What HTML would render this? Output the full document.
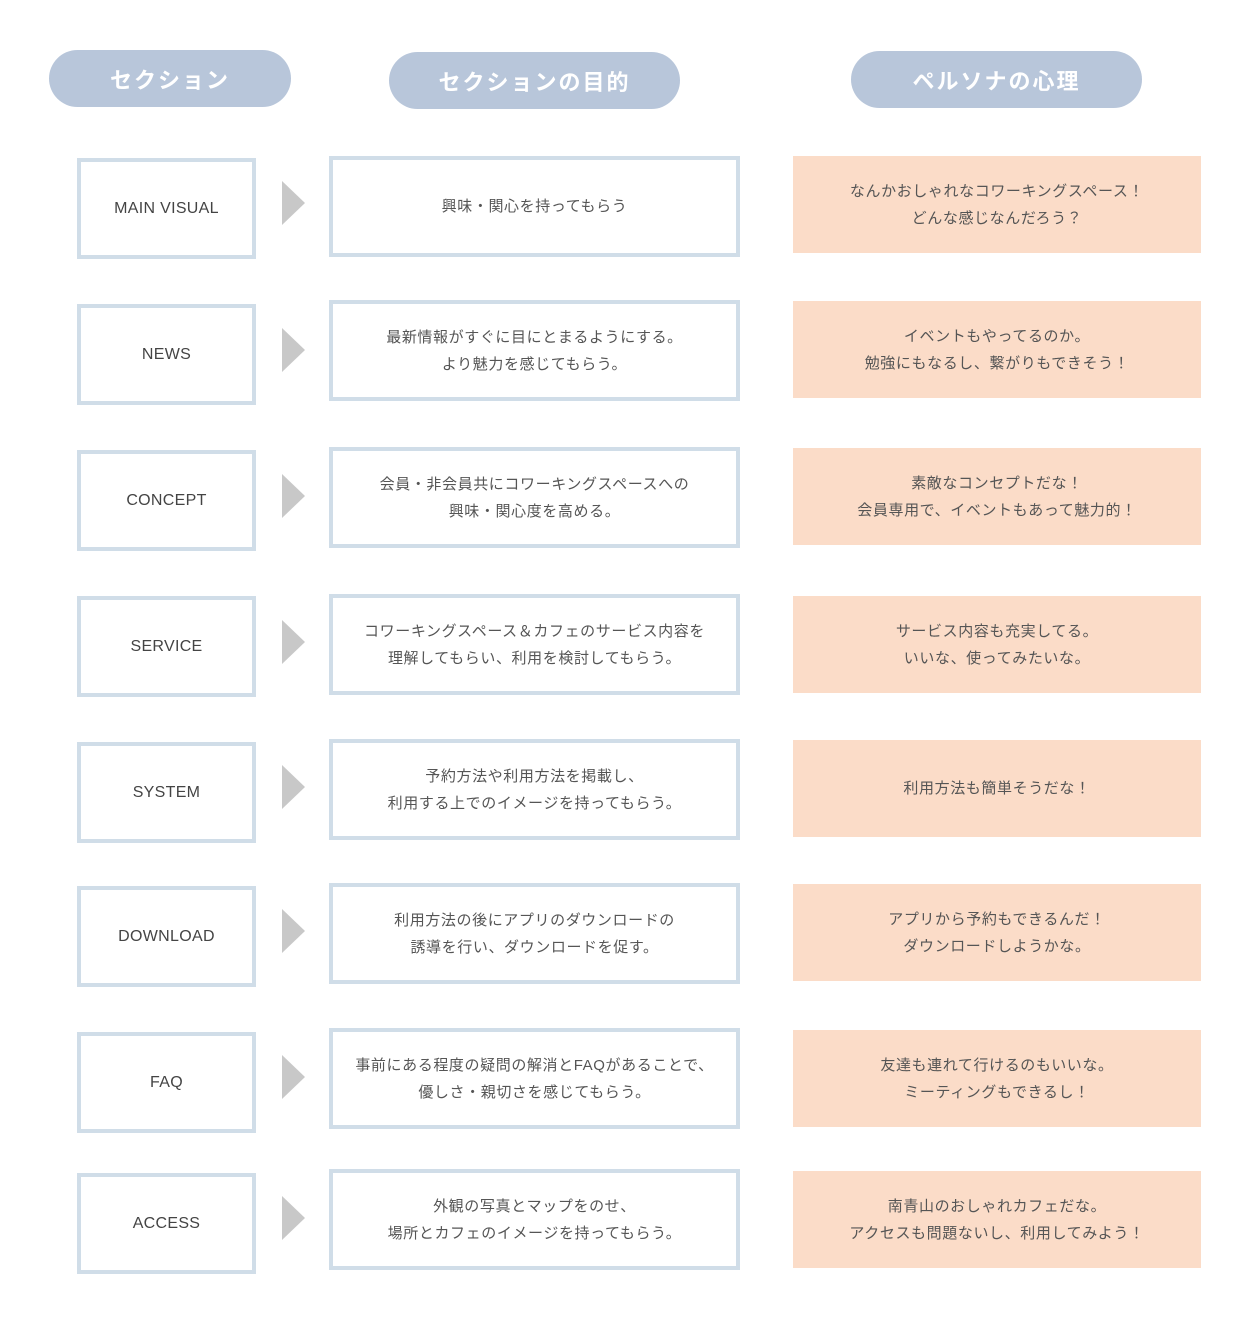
<!DOCTYPE html>
<html><head><meta charset="utf-8"><style>
body{margin:0;width:1250px;height:1323px;background:#fff;position:relative;font-family:"Liberation Sans","Noto Sans CJK JP",sans-serif;color:#555;}
.pill{position:absolute;height:57px;border-radius:29px;background:#b8c6da;color:#fff;font-weight:bold;font-size:22px;letter-spacing:2px;display:flex;align-items:center;justify-content:center;}
.b{position:absolute;box-sizing:border-box;display:flex;align-items:center;justify-content:center;text-align:center;}
.l{left:77px;width:179px;height:101px;border:4px solid #d0dde8;font-size:16px;letter-spacing:.3px;color:#444;}
.m{left:329px;width:411px;height:101px;border:4px solid #d0dde8;font-size:15px;letter-spacing:.6px;line-height:27px;}
.r{left:793px;width:408px;height:97px;background:#fbdcc8;font-size:15px;letter-spacing:.6px;line-height:27px;}
.a{position:absolute;left:282px;width:0;height:0;border-top:22px solid transparent;border-bottom:22px solid transparent;border-left:23px solid #c8c8c8;}
</style></head><body>
<div class="pill" style="left:49px;top:50px;width:242px">セクション</div>
<div class="pill" style="left:389px;top:52px;width:291px">セクションの目的</div>
<div class="pill" style="left:851px;top:51px;width:291px">ペルソナの心理</div>

<div class="b l" style="top:158px">MAIN VISUAL</div><div class="a" style="top:181px"></div>
<div class="b m" style="top:156px">興味・関心を持ってもらう</div>
<div class="b r" style="top:156px">なんかおしゃれなコワーキングスペース！<br>どんな感じなんだろう？</div>

<div class="b l" style="top:304px">NEWS</div><div class="a" style="top:328px"></div>
<div class="b m" style="top:300px">最新情報がすぐに目にとまるようにする。<br>より魅力を感じてもらう。</div>
<div class="b r" style="top:301px">イベントもやってるのか。<br>勉強にもなるし、繋がりもできそう！</div>

<div class="b l" style="top:450px">CONCEPT</div><div class="a" style="top:474px"></div>
<div class="b m" style="top:447px">会員・非会員共にコワーキングスペースへの<br>興味・関心度を高める。</div>
<div class="b r" style="top:448px">素敵なコンセプトだな！<br>会員専用で、イベントもあって魅力的！</div>

<div class="b l" style="top:596px">SERVICE</div><div class="a" style="top:620px"></div>
<div class="b m" style="top:594px">コワーキングスペース＆カフェのサービス内容を<br>理解してもらい、利用を検討してもらう。</div>
<div class="b r" style="top:596px">サービス内容も充実してる。<br>いいな、使ってみたいな。</div>

<div class="b l" style="top:742px">SYSTEM</div><div class="a" style="top:765px"></div>
<div class="b m" style="top:739px">予約方法や利用方法を掲載し、<br>利用する上でのイメージを持ってもらう。</div>
<div class="b r" style="top:740px">利用方法も簡単そうだな！</div>

<div class="b l" style="top:886px">DOWNLOAD</div><div class="a" style="top:909px"></div>
<div class="b m" style="top:883px">利用方法の後にアプリのダウンロードの<br>誘導を行い、ダウンロードを促す。</div>
<div class="b r" style="top:884px">アプリから予約もできるんだ！<br>ダウンロードしようかな。</div>

<div class="b l" style="top:1032px">FAQ</div><div class="a" style="top:1055px"></div>
<div class="b m" style="top:1028px">事前にある程度の疑問の解消とFAQがあることで、<br>優しさ・親切さを感じてもらう。</div>
<div class="b r" style="top:1030px">友達も連れて行けるのもいいな。<br>ミーティングもできるし！</div>

<div class="b l" style="top:1173px">ACCESS</div><div class="a" style="top:1196px"></div>
<div class="b m" style="top:1169px">外観の写真とマップをのせ、<br>場所とカフェのイメージを持ってもらう。</div>
<div class="b r" style="top:1171px">南青山のおしゃれカフェだな。<br>アクセスも問題ないし、利用してみよう！</div>
</body></html>
